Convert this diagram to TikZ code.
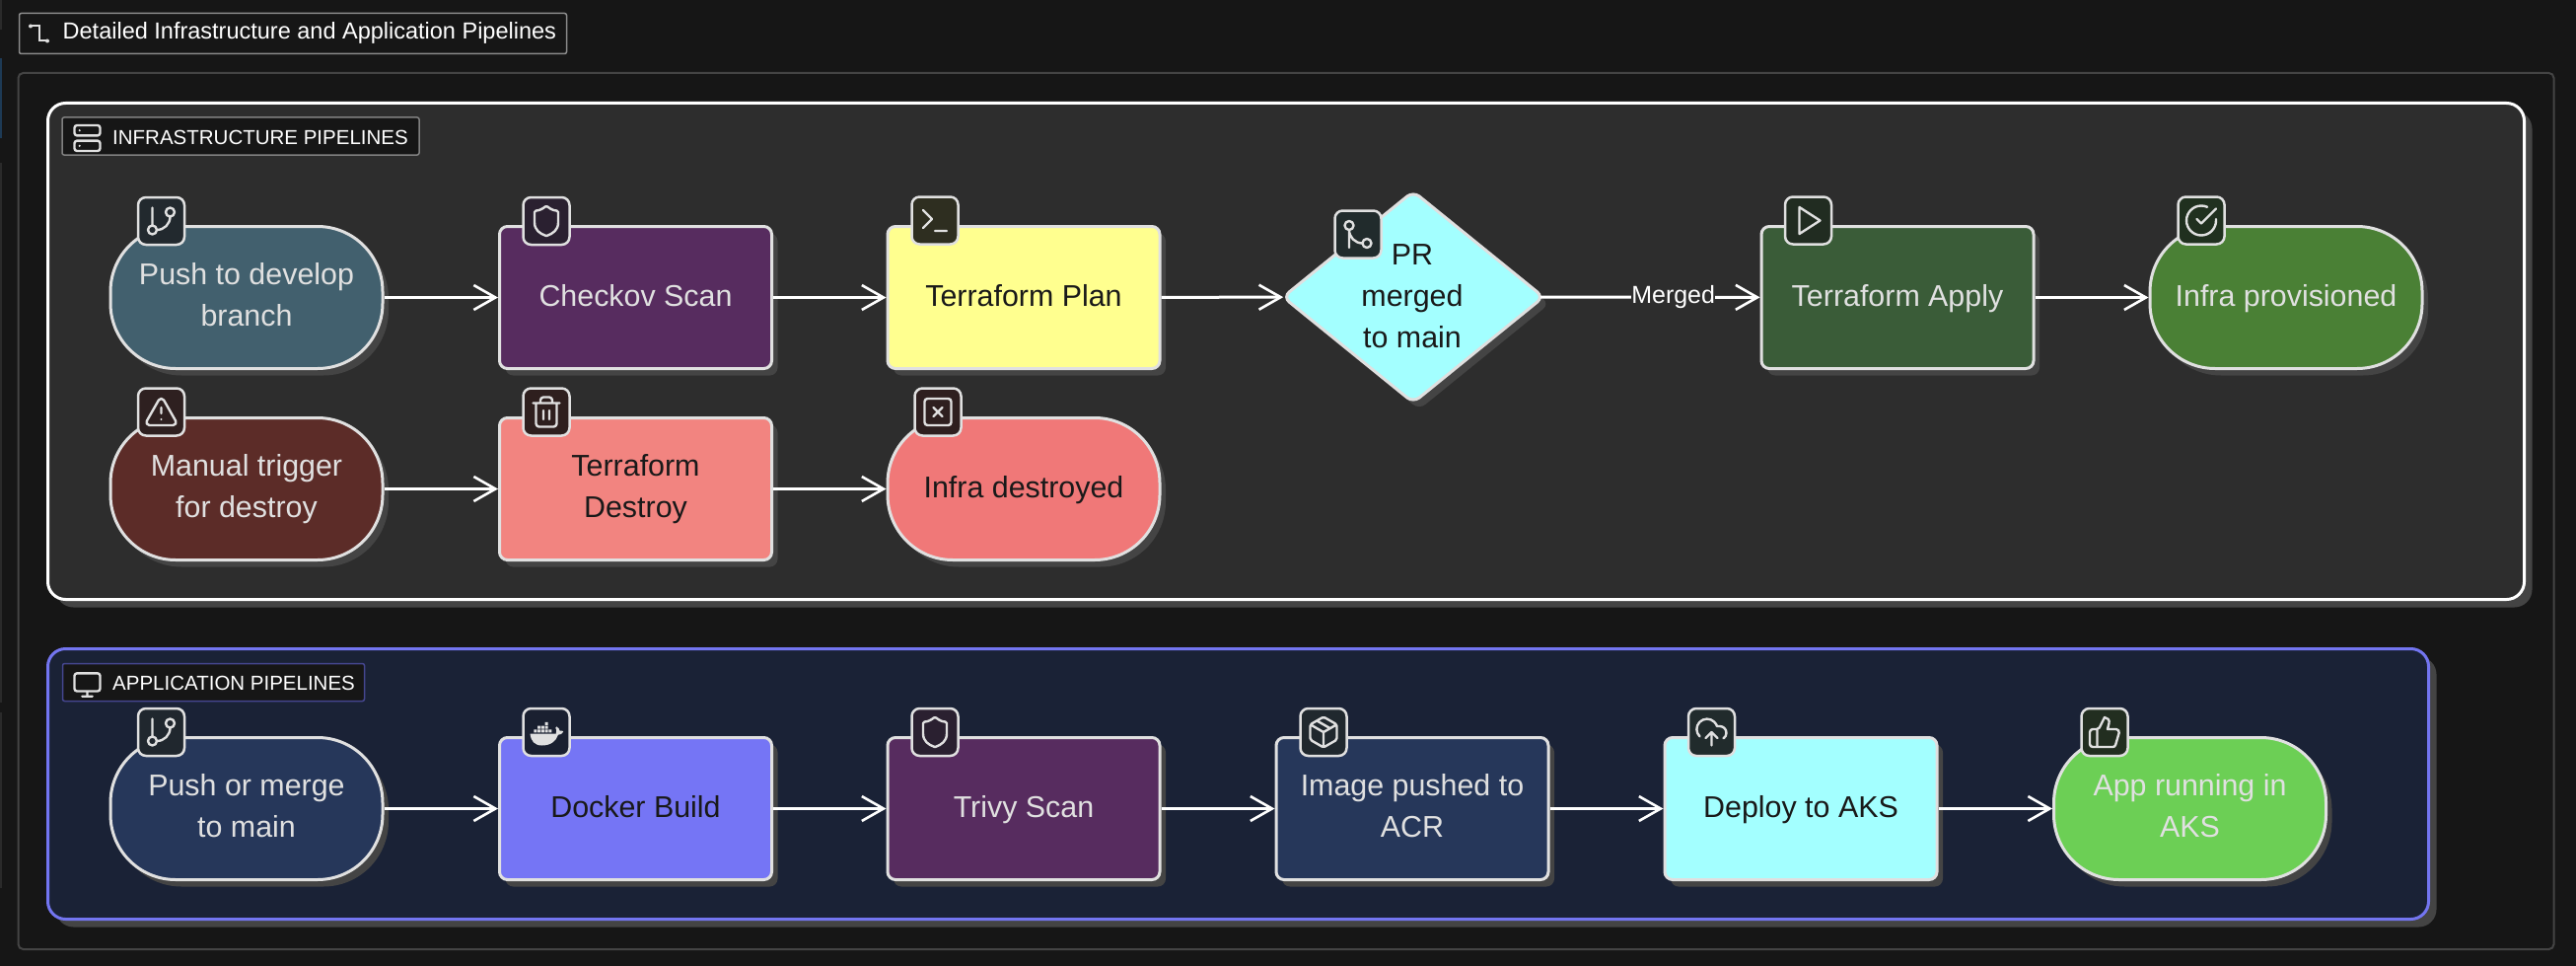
\documentclass[tikz,border=0pt]{standalone}
\usepackage{fontspec}
\setmainfont{Liberation Sans}
\usetikzlibrary{shapes.geometric,arrows.meta,shadows,svg.path}

\definecolor{pagebg}{HTML}{161616}
\definecolor{framec}{HTML}{444444}
\definecolor{shadowc}{HTML}{444444}
\definecolor{inkc}{HTML}{E0E0E0}
\definecolor{infrabg}{HTML}{2D2D2D}
\definecolor{appbg}{HTML}{1A2236}
\definecolor{appline}{HTML}{7375F0}
\definecolor{appdim}{HTML}{45468F}
\definecolor{tealc}{HTML}{42606E}
\definecolor{plumc}{HTML}{572C5F}
\definecolor{yellowc}{HTML}{FFFF8F}
\definecolor{cyanc}{HTML}{A3FFFF}
\definecolor{mossc}{HTML}{3A5C38}
\definecolor{leafc}{HTML}{4A8035}
\definecolor{brickc}{HTML}{5C2C28}
\definecolor{salmonc}{HTML}{F28480}
\definecolor{coralc}{HTML}{F07878}
\definecolor{navyc}{HTML}{26375A}
\definecolor{violetc}{HTML}{7575F5}
\definecolor{limec}{HTML}{6CCF55}
\definecolor{stripgray}{HTML}{2A2A2A}
\definecolor{stripblue}{HTML}{1D3A55}

\tikzset{
	nodetext/.style={align=center,font=\fontsize{30.4}{42}\selectfont,
		execute at begin node=\rule{0pt}{24pt},execute at end node=\rule[-7pt]{0pt}{7pt}},
	pipebase/.style={nodetext,draw=inkc,line width=3pt,inner sep=0pt,minimum height=144pt,
		general shadow={fill=shadowc,shadow xshift=6pt,shadow yshift=-7pt},text=inkc},
	stepbox/.style={pipebase,rectangle,rounded corners=8pt,minimum width=276pt},
	stadium/.style={pipebase,rectangle,rounded corners=66pt,minimum width=276pt},
	iconbox/.style={draw=inkc,line width=2.5pt,rounded corners=8pt,inner sep=0pt,
		minimum width=47pt,minimum height=48pt},
	glyphline/.style={draw=inkc,line width=2.4pt,line cap=round,line join=round},
	cluster/.style={rectangle,rounded corners=18pt,line width=3pt,inner sep=0pt,
		general shadow={fill=shadowc,shadow xshift=8pt,shadow yshift=-8pt}},
	tagbox/.style={rectangle,rounded corners=2pt,fill=pagebg,line width=1.5pt,inner sep=0pt},
	tagtext/.style={anchor=west,inner sep=0pt,text=white,font=\fontsize{20.5}{24}\selectfont},
	flow/.style={draw=white,line width=3pt,-{Straight Barb[length=22pt,width=25pt,line width=2.6pt]}}
}

\newcommand{\icongit}{M6 3 V15 M21 6 A3 3 0 1 1 15 6 A3 3 0 1 1 21 6 M9 18 A3 3 0 1 1 3 18 A3 3 0 1 1 9 18 M18 9 C18 14 14 18 9 18}
\newcommand{\iconshield}{M20 13 C20 18 16.5 20.5 12.34 21.95 C12.1 22 11.9 22 11.67 21.94 C7.5 20.5 4 18 4 13 V6 C4 5.4 4.4 5 5 5 C7 5 9.5 3.8 11.24 2.28 C11.7 1.9 12.3 1.9 12.76 2.28 C14.51 3.81 17 5 19 5 C19.6 5 20 5.4 20 6 Z}
\newcommand{\iconterm}{M4 17 L10 11 L4 5 M12 19 H20}
\newcommand{\iconmerge}{M21 18 A3 3 0 1 1 15 18 A3 3 0 1 1 21 18 M9 6 A3 3 0 1 1 3 6 A3 3 0 1 1 9 6 M6 21 V9 C6 14 10 18 15 18}
\newcommand{\iconplay}{M6 3 L20 12 L6 21 Z}
\newcommand{\iconcheck}{M22 11.08 V12 C22 17.5 17.5 22 12 22 C6.5 22 2 17.5 2 12 C2 6.5 6.5 2 12 2 C13.5 2 14.8 2.3 16.07 2.86 M22 4 L12 14.01 L9 11.01}
\newcommand{\iconalert}{M21.73 18 L13.73 4 C12.96 2.67 11.04 2.67 10.27 4 L2.27 18 C1.5 19.33 2.46 21 4 21 H20 C21.54 21 22.5 19.33 21.73 18 Z M12 9 V13 M12 17 H12.01}
\newcommand{\icontrash}{M3 6 H21 M19 6 V20 C19 21 18 22 17 22 H7 C6 22 5 21 5 20 V6 M8 6 V4 C8 3 9 2 10 2 H14 C15 2 16 3 16 4 V6 M10 11 V17 M14 11 V17}
\newcommand{\iconxbox}{M5 3 H19 C20.1 3 21 3.9 21 5 V19 C21 20.1 20.1 21 19 21 H5 C3.9 21 3 20.1 3 19 V5 C3 3.9 3.9 3 5 3 Z M15 9 L9 15 M9 9 L15 15}
\newcommand{\iconserver}{M4 2 H20 C21.1 2 22 2.9 22 4 V8 C22 9.1 21.1 10 20 10 H4 C2.9 10 2 9.1 2 8 V4 C2 2.9 2.9 2 4 2 Z M4 14 H20 C21.1 14 22 14.9 22 16 V20 C22 21.1 21.1 22 20 22 H4 C2.9 22 2 21.1 2 20 V16 C2 14.9 2.9 14 4 14 Z M6 6 H6.01 M6 18 H6.01}
\newcommand{\iconscreen}{M4 3 H20 C21.1 3 22 3.9 22 5 V15 C22 16.1 21.1 17 20 17 H4 C2.9 17 2 16.1 2 15 V5 C2 3.9 2.9 3 4 3 Z M8 21 H16 M12 17 V21}
\newcommand{\iconpackage}{M7.5 4.27 L16.5 9.42 M21 8 C21 7.3 20.6 6.6 20 6.27 L13 2.27 C12.4 1.9 11.6 1.9 11 2.27 L4 6.27 C3.4 6.6 3 7.3 3 8 V16 C3 16.7 3.4 17.4 4 17.73 L11 21.73 C11.6 22.1 12.4 22.1 13 21.73 L20 17.73 C20.6 17.4 21 16.7 21 16 Z M3.3 7 L12 12 L20.7 7 M12 22 V12}
\newcommand{\iconcloud}{M4 14.9 C1.3 12.3 1.2 8 3.9 5.2 C6.6 2.4 11 2.4 13.7 5 C14.6 5.9 15.3 6.9 15.71 8 H17.5 C20 8 22 10 22 12.5 C22 14.1 21.2 15.5 20 16.24 M12 12 V21 M16 16 L12 12 L8 16}
\newcommand{\iconthumb}{M7 10 V22 M15 5.88 L14 10 H19.83 C21.1 10 22.1 11.3 21.75 12.56 L19.42 20.56 C19.2 21.4 18.4 22 17.5 22 H4 C2.9 22 2 21.1 2 20 V12 C2 10.9 2.9 10 4 10 H6.76 C7.5 10 8.2 9.6 8.55 8.89 L12 2 C14 2.1 15.5 3.9 15 5.88 Z}
\newcommand{\iconwhale}{M1 13 H18.5 C19 11.5 19 10 18.2 9 L19 8.2 C20.2 9 20.8 10 21 11 C22 10.8 23 11 23.5 11.6 C22.8 13.2 21.5 13.8 20 13.8 C18.5 18 15 21 9 21 C4 21 1.5 18 1 13 Z M3.5 10.2 H5.5 V12.2 H3.5 Z M6 10.2 H8 V12.2 H6 Z M8.5 10.2 H10.5 V12.2 H8.5 Z M11 10.2 H13 V12.2 H11 Z M13.5 10.2 H15.5 V12.2 H13.5 Z M6 7.7 H8 V9.7 H6 Z M8.5 7.7 H10.5 V9.7 H8.5 Z M11 7.7 H13 V9.7 H11 Z M11 5.2 H13 V7.2 H11 Z}

% glyph: node to sit on, scale, style, path
\newcommand{\putglyph}[4]{
	\begin{scope}[shift={(#1)},xscale=#2,yscale=-#2,shift={(-12pt,-12pt)}]
		\edef\glyphcode{\noexpand\path[#3] svg {#4};}
		\glyphcode
	\end{scope}
}

\begin{document}
\begin{tikzpicture}[x=1pt,y=-1pt]
	\useasboundingbox[fill=pagebg] (0,0) rectangle (2612,979);

	% strips at the left edge
	\fill[stripgray] (0,0) rectangle (2,30);
	\fill[stripblue] (0,59) rectangle (2,140);
	\fill[stripgray] (0,165) rectangle (2,712);
	\fill[stripgray] (0,722) rectangle (2,900);

	\node[rectangle,draw=framec,line width=2pt,rounded corners=5pt,inner sep=0pt,
		minimum width=2571pt,minimum height=888pt] (frame) at (1304,518) {};
	\node[tagbox,draw=gray!90,minimum width=555pt,minimum height=41pt] (titletag) at (297,34) {};
	\node[tagtext,font=\fontsize{23.5}{26}\selectfont] (titletext) at (63.5,33) {Detailed Infrastructure and Application Pipelines};
	\draw[draw=inkc,line width=2pt] (31,26.5)--(40,26.5)--(40,41.5)--(47,41.5);
	\fill[inkc] (31,26.5) circle (2pt) (48,41.5) circle (2pt);

	% infrastructure
	\node[cluster,draw=white,fill=infrabg,minimum width=2511pt,minimum height=503pt] (infra) at (1304,356) {};
	\node[tagbox,draw=gray,minimum width=362pt,minimum height=38pt] (infratag) at (244,138) {};
	\node[tagtext] (infratext) at (114,139) {INFRASTRUCTURE PIPELINES};

	\node[stadium,fill=tealc] (pushdev) at (250,301.5) {Push to develop\\branch};
	\node[stepbox,fill=plumc] (checkov) at (644.5,301.5) {Checkov Scan};
	\node[stepbox,fill=yellowc,text=black!90] (tfplan) at (1038,301.5) {Terraform Plan};
	\node[diamond,draw=inkc,line width=3pt,inner sep=0pt,outer sep=0pt,rounded corners=8pt,minimum width=264pt,minimum height=214pt,
		fill=cyanc,general shadow={fill=shadowc,shadow xshift=6pt,shadow yshift=-7pt}] (prmerge) at (1433,301) {};
	\node[nodetext,text=black!90,inner sep=0pt] (prtext) at (1432,304) {PR\\merged\\to main};
	\node[stepbox,fill=mossc] (tfapply) at (1924,301.5) {Terraform Apply};
	\node[stadium,fill=leafc] (infraup) at (2318,301.5) {Infra provisioned};

	\node[stadium,fill=brickc] (manual) at (250,495.5) {Manual trigger\\for destroy};
	\node[stepbox,fill=salmonc,text=black!90] (tfdestroy) at (644.5,495.5) {Terraform\\Destroy};
	\node[stadium,fill=coralc,text=black!90] (infradown) at (1038,495.5) {Infra destroyed};

	% application
	\node[cluster,draw=appline,fill=appbg,minimum width=2414pt,minimum height=274pt] (app) at (1255.5,794.5) {};
	\node[tagbox,draw=appdim,minimum width=306pt,minimum height=38pt] (apptag) at (216.5,691.5) {};
	\node[tagtext] (apptext) at (114,692) {APPLICATION PIPELINES};

	\node[stadium,fill=navyc] (pushmain) at (250,819.5) {Push or merge\\to main};
	\node[stepbox,fill=violetc,text=black!90] (docker) at (644.5,819.5) {Docker Build};
	\node[stepbox,fill=plumc] (trivy) at (1038,819.5) {Trivy Scan};
	\node[stepbox,fill=navyc] (acr) at (1432,819.5) {Image pushed to\\ACR};
	\node[stepbox,fill=cyanc,text=black!90] (deploy) at (1826,819.5) {Deploy to AKS};
	\node[stadium,fill=limec] (apprun) at (2220.5,819.5) {App running in\\AKS};

	\foreach \a/\b in {pushdev/checkov,checkov/tfplan,tfplan/prmerge,tfapply/infraup,
		manual/tfdestroy,tfdestroy/infradown,pushmain/docker,docker/trivy,trivy/acr,acr/deploy,deploy/apprun}
		\draw[flow] (\a) -- (\b);
	\draw[flow,shorten <=-3pt] (prmerge) -- node[pos=.6,fill=infrabg,inner sep=0pt,text=white,font=\fontsize{25}{28}\selectfont] (mergedtag) {Merged} (tfapply);

	% icons
	\foreach \n/\x/\y/\c in {ic1/163.5/224/22292E,ic2/554/224/2A2030,ic3/948/223.5/2E2E20,ic4/1377/237.5/212B2C,
		ic5/1833.5/223.5/212C21,ic6/2232/223.5/20301F,ic7/163.5/417.5/2E2020,ic8/554/417.5/2E1F1E,ic9/951/417.5/2E1F1F,
		ic10/163.5/742/20272E,ic11/554/742/1A2030,ic12/948/742/2A2030,ic13/1342/742/20282E,ic14/1735.5/742/212B2C,ic15/2134/742/222E20}
	{
		\definecolor{tint}{HTML}{\c}
		\node[iconbox,fill=tint] (\n) at (\x,\y) {};
	}
	\putglyph{ic1}{1.5}{glyphline}{\icongit}
	\putglyph{ic2}{1.5}{glyphline}{\iconshield}
	\putglyph{ic3}{1.5}{glyphline}{\iconterm}
	\putglyph{ic4}{1.5}{glyphline}{\iconmerge}
	\putglyph{ic5}{1.5}{glyphline}{\iconplay}
	\putglyph{ic6}{1.5}{glyphline}{\iconcheck}
	\putglyph{ic7}{1.5}{glyphline}{\iconalert}
	\putglyph{ic8}{1.5}{glyphline}{\icontrash}
	\putglyph{ic9}{1.5}{glyphline}{\iconxbox}
	\putglyph{ic10}{1.5}{glyphline}{\icongit}
	\putglyph{ic11}{1.5}{fill=inkc}{\iconwhale}
	\putglyph{ic12}{1.5}{glyphline}{\iconshield}
	\putglyph{ic13}{1.5}{glyphline}{\iconpackage}
	\putglyph{ic14}{1.5}{glyphline}{\iconcloud}
	\putglyph{ic15}{1.5}{glyphline}{\iconthumb}
	\coordinate (infraglyph) at (88.5,140);
	\coordinate (appglyph) at (88.5,694);
	\putglyph{infraglyph}{1.3}{glyphline}{\iconserver}
	\putglyph{appglyph}{1.3}{glyphline}{\iconscreen}
\end{tikzpicture}
\end{document}
